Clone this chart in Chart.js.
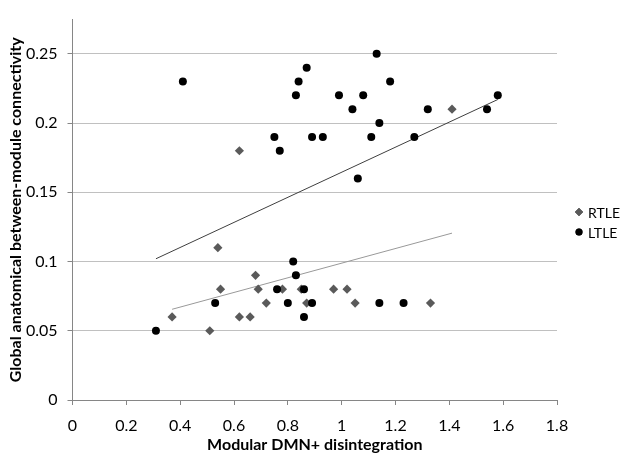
<!DOCTYPE html>
<html>
<head>
<meta charset="utf-8">
<script src="https://cdn.jsdelivr.net/npm/chart.js@4.4.1/dist/chart.umd.min.js"></script>
<style>
    html, body { margin: 0; padding: 0; background: #fff; }
    #wrap { width: 622px; height: 454px; position: relative; }
</style>
</head>
<body>
<div id="wrap"><canvas id="chart"></canvas></div>
<script>
// Values
const rtleX = [0.62, 1.41, 0.54, 0.68, 0.55, 0.69, 0.78, 0.85, 0.97, 1.02, 0.72, 0.87, 1.05, 1.33, 0.37, 0.62, 0.66, 0.51];
const rtleY = [0.18, 0.21, 0.11, 0.09, 0.08, 0.08, 0.08, 0.08, 0.08, 0.08, 0.07, 0.07, 0.07, 0.07, 0.06, 0.06, 0.06, 0.05];

const ltleX = [0.41, 0.87, 0.84, 0.83, 0.75, 0.89, 0.77, 1.13, 1.18, 0.99, 1.08, 1.04, 1.32, 1.54, 1.58, 1.14, 0.93, 1.11, 1.27, 1.06,
               0.82, 0.83, 0.76, 0.86, 0.53, 0.80, 0.89, 0.86, 0.31, 1.14, 1.23];
const ltleY = [0.23, 0.24, 0.23, 0.22, 0.19, 0.19, 0.18, 0.25, 0.23, 0.22, 0.22, 0.21, 0.21, 0.21, 0.22, 0.20, 0.19, 0.19, 0.19, 0.16,
               0.10, 0.09, 0.08, 0.08, 0.07, 0.07, 0.07, 0.06, 0.05, 0.07, 0.07];

// linear trendline end points (as drawn in the picture)
const rtleTrendX = [0.37, 1.41];
const rtleTrendY = [0.0655, 0.1205];
const ltleTrendX = [0.31, 1.58];
const ltleTrendY = [0.102, 0.217];

const xTicks = [0, 0.2, 0.4, 0.6, 0.8, 1, 1.2, 1.4, 1.6, 1.8];
const yTicks = [0, 0.05, 0.1, 0.15, 0.2, 0.25];

const seriesNames = ['RTLE', 'LTLE'];
const xTitle = 'Modular DMN+ disintegration';
const yTitle = 'Global anatomical between-module connectivity';

const toPoints = (xs, ys) => xs.map((x, i) => ({ x: x, y: ys[i] }));

const FONT = 'Lato, "Open Sans", sans-serif';

// legend drawn at the right, like the original
const sideLegend = {
    id: 'sideLegend',
    afterDraw(chart) {
        const ctx = chart.ctx;
        const items = chart.data.datasets.filter(d => !d.isTrend);
        ctx.save();
        ctx.font = '14px ' + FONT;
        ctx.textBaseline = 'middle';
        items.forEach((ds, i) => {
            const y = 212 + i * 20;
            Chart.helpers.drawPoint(ctx, {
                pointStyle: ds.pointStyle,
                radius: ds.pointStyle === 'rectRot' ? 4 : 3.5,
                rotation: 0,
                borderWidth: 0
            }, 579, y);
            ctx.fillStyle = ds.backgroundColor;
            ctx.fill();
            ctx.fillStyle = '#000';
            ctx.fillText(ds.label, 588, y + 1);
        });
        ctx.restore();
    }
};

const ctx = document.getElementById('chart').getContext('2d');
new Chart(ctx, {
    type: 'scatter',
    data: {
        datasets: [
            {
                label: seriesNames[0],
                data: toPoints(rtleX, rtleY),
                pointStyle: 'rectRot',
                pointRadius: 4.6,
                pointHoverRadius: 4.6,
                backgroundColor: '#5a5a5a',
                borderColor: '#5a5a5a',
                borderWidth: 0,
                order: 2
            },
            {
                label: seriesNames[1],
                data: toPoints(ltleX, ltleY),
                pointStyle: 'circle',
                pointRadius: 4,
                pointHoverRadius: 4,
                backgroundColor: '#000',
                borderColor: '#000',
                borderWidth: 0,
                order: 1
            },
            {
                label: 'RTLE trend',
                isTrend: true,
                type: 'line',
                data: toPoints(rtleTrendX, rtleTrendY),
                borderColor: '#999999',
                borderWidth: 1,
                pointRadius: 0,
                fill: false,
                order: 3
            },
            {
                label: 'LTLE trend',
                isTrend: true,
                type: 'line',
                data: toPoints(ltleTrendX, ltleTrendY),
                borderColor: '#3f3f3f',
                borderWidth: 1,
                pointRadius: 0,
                fill: false,
                order: 3
            }
        ]
    },
    options: {
        responsive: true,
        maintainAspectRatio: false,
        animation: false,
        layout: { padding: { top: 0, right: 65, bottom: 0, left: 0 } },
        plugins: {
            legend: { display: false },
            tooltip: { enabled: false }
        },
        scales: {
            x: {
                type: 'linear',
                min: 0,
                max: 1.8,
                afterBuildTicks: axis => { axis.ticks = xTicks.map(v => ({ value: v })); },
                afterFit: axis => { axis.height = 54; },
                grid: { drawOnChartArea: false, drawTicks: true, tickLength: 5, tickColor: '#868686' },
                border: { color: '#868686', width: 1 },
                ticks: {
                    color: '#000',
                    font: { family: FONT, size: 16 },
                    padding: 11,
                    maxRotation: 0,
                    callback: v => String(Math.round(v * 10) / 10)
                },
                title: {
                    display: true,
                    text: xTitle,
                    color: '#000',
                    font: { family: FONT, size: 16, weight: 'bold' },
                    padding: { top: 0, bottom: 0 }
                }
            },
            y: {
                type: 'linear',
                min: 0,
                max: 0.2747,
                afterBuildTicks: axis => { axis.ticks = yTicks.map(v => ({ value: v })); },
                afterFit: axis => { axis.width = 72.5; },
                grid: { color: '#c0c0c0', drawTicks: true, tickLength: 5, tickColor: '#868686' },
                border: { color: '#868686', width: 1 },
                ticks: {
                    color: '#000',
                    font: { family: FONT, size: 16 },
                    padding: 10,
                    callback: v => String(Math.round(v * 100) / 100)
                },
                title: {
                    display: true,
                    text: yTitle,
                    color: '#000',
                    font: { family: FONT, size: 16, weight: 'bold' },
                    padding: { top: 6, bottom: 0 }
                }
            }
        }
    },
    plugins: [sideLegend]
});
</script>
</body>
</html>
